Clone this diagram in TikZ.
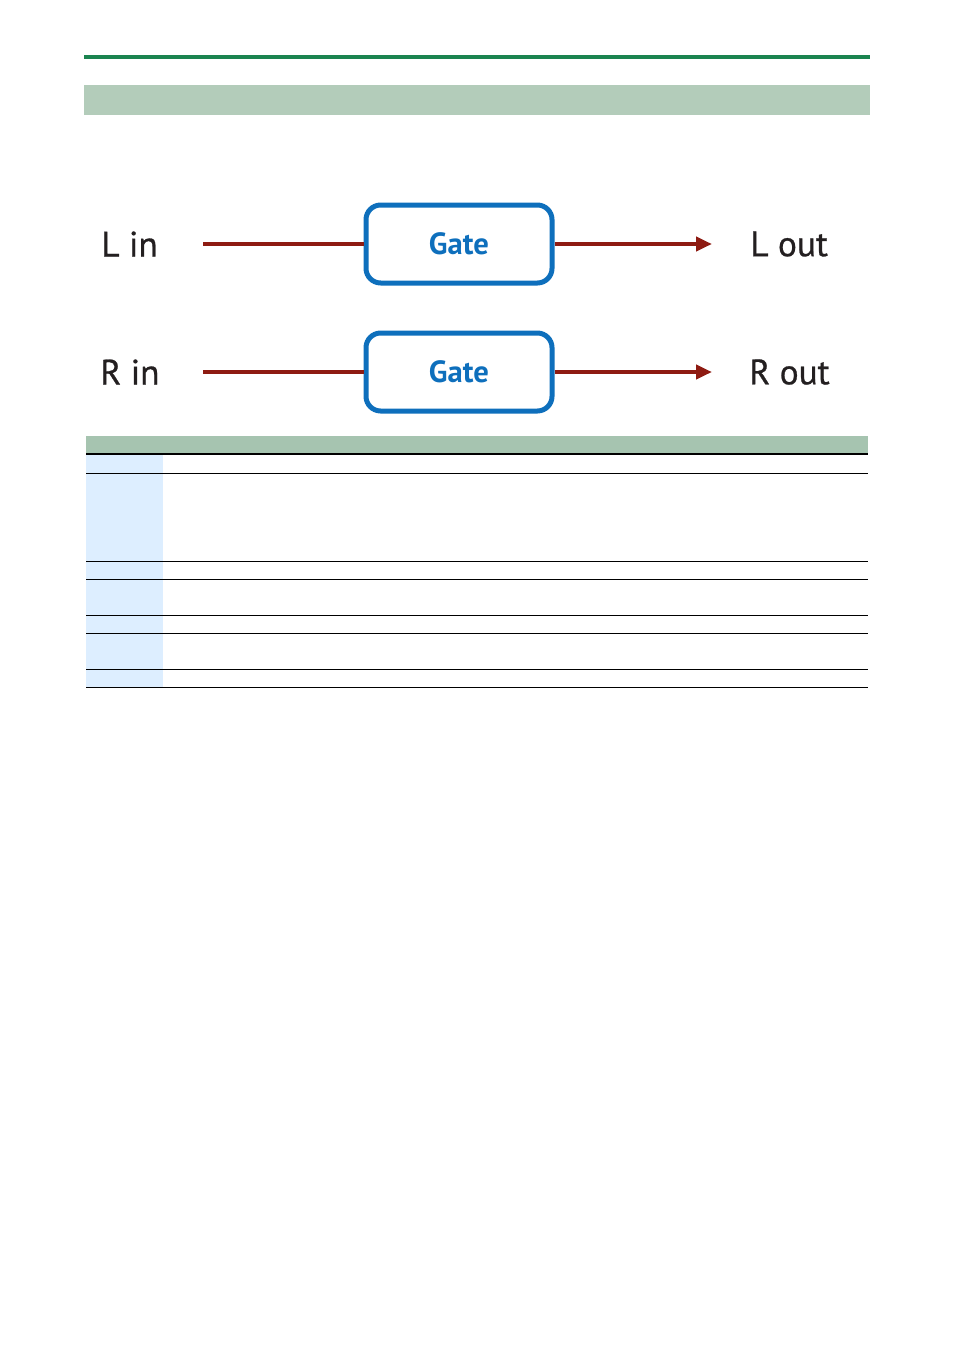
\documentclass[tikz,border=0pt]{standalone}
\usepackage{fontspec}
\setmainfont{PT Sans}
\newfontfamily\labelfont[FakeBold=0.7]{PT Sans}
\usetikzlibrary{arrows.meta}
\definecolor{topgreen}{HTML}{1B8450}
\definecolor{bandgreen}{HTML}{B3CCBA}
\definecolor{headgreen}{HTML}{A6C4B0}
\definecolor{gateblue}{HTML}{0E6FBC}
\definecolor{sigred}{HTML}{8E1B12}
\definecolor{inkdark}{HTML}{231F20}
\definecolor{colblue}{HTML}{DDEEFF}
\begin{document}
\begin{tikzpicture}[x=0.75pt,y=-0.75pt,
  gatebox/.style={draw=gateblue,line width=3.75pt,rounded corners=11pt,minimum width=139.5pt,minimum height=58.5pt,inner sep=0pt,text=gateblue,font=\fontsize{23}{27}\selectfont\bfseries},
  iolabel/.style={inner sep=0pt,text=inkdark,font=\labelfont\fontsize{26.5}{31}\selectfont},
  sig/.style={draw=sigred,line width=3pt},
  sigarrow/.style={sig,-{Triangle[length=12pt,width=10.5pt]}},
  rowline/.style={draw=black,line width=0.75pt}]
\useasboundingbox (0,0) rectangle (954,1349);
% top rule and band
\fill[topgreen] (84,55) rectangle (870,59);
\fill[bandgreen] (84,85) rectangle (870,115);
% row L
\node[gatebox] (g1) at (459,244) {Gate};
\node[iolabel,anchor=west] (lin) at (101,244) {L in};
\node[iolabel,anchor=west] (lout) at (750,244) {L out};
\coordinate (l1s) at (203,244);
\coordinate (l1e) at (712,244);
\draw[sig] (l1s) -- (g1.west);
\draw[sigarrow] (g1.east) -- (l1e);
% row R
\node[gatebox] (g2) at (459,372) {Gate};
\node[iolabel,anchor=west] (rin) at (100,372) {R in};
\node[iolabel,anchor=west] (rout) at (749,372) {R out};
\coordinate (r1s) at (203,372);
\coordinate (r1e) at (712,372);
\draw[sig] (r1s) -- (g2.west);
\draw[sigarrow] (g2.east) -- (r1e);
% table
\fill[headgreen] (86,435.5) rectangle (868,453);
\fill[colblue] (86,454.5) rectangle (163,687);
\draw[black,line width=1.6pt] (86,453.7) -- (868,453.7);
\foreach \yy in {473.3,561,579.3,615,633,669,687}
  \draw[rowline] (86,\yy) -- (868,\yy);
\end{tikzpicture}
\end{document}
